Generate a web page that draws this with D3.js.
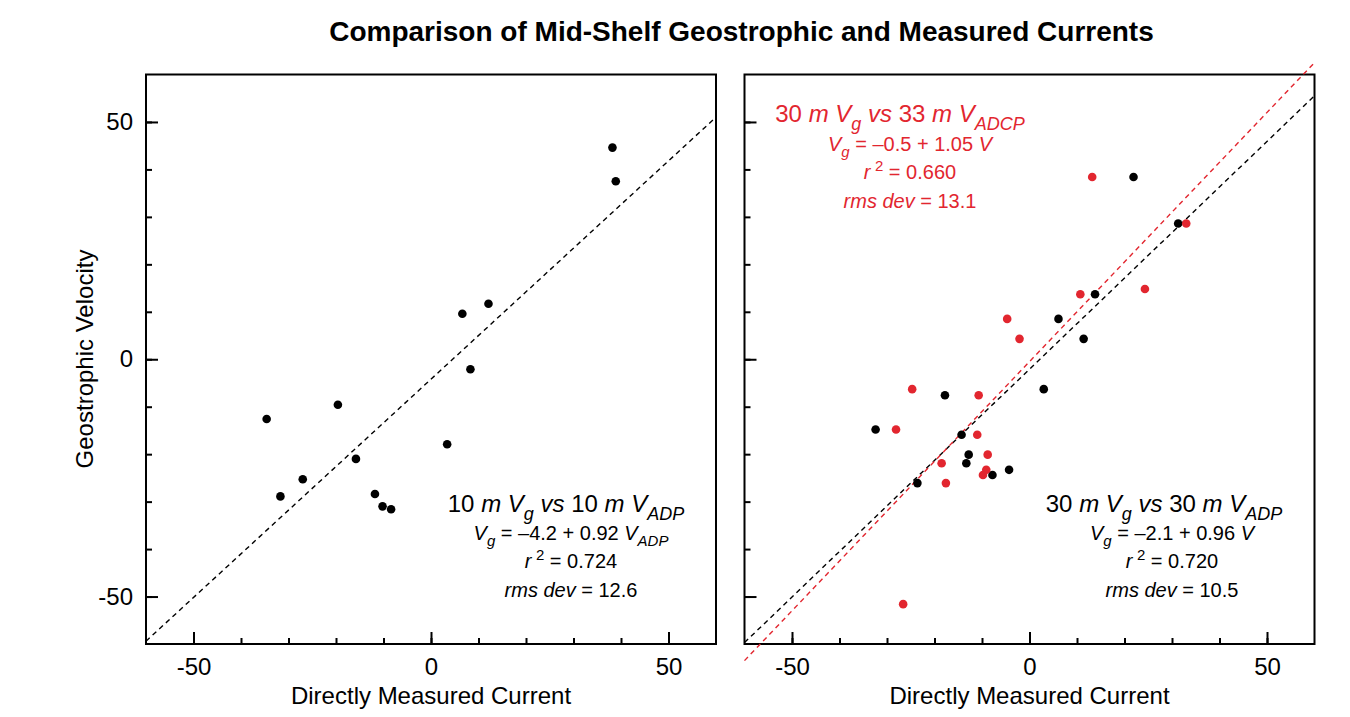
<!DOCTYPE html>
<html><head><meta charset="utf-8">
<script src="https://cdn.jsdelivr.net/npm/d3@7"></script>
<style>
body{margin:0;background:#fff}
text{font-family:"Liberation Sans",Arial,Helvetica,sans-serif;white-space:pre}
</style>
</head><body><svg id="c" width="1350" height="717"></svg>
<script>
// ---------- data ----------
const titleText = "Comparison of Mid-Shelf Geostrophic and Measured Currents";
const xLabelText = "Directly Measured Current";
const yLabelText = "Geostrophic Velocity";
const axisDomain = [-60, 60];
const majorTicks = [-50, 0, 50];
const minorTicks = [-50, -40, -30, -20, -10, 0, 10, 20, 30, 40, 50];
const tickLabels = ["-50", "0", "50"];

// left panel: 10 m Vg vs 10 m V_ADP
const left10X = [38.2, 38.9, 12.1, 6.6, 8.3, -19.6, -34.6, 3.4, -15.8, -27.0, -31.7, -11.8, -10.2, -8.4];
const left10Y = [44.6, 37.5, 11.7, 9.6, -2.1, -9.6, -12.6, -17.9, -21.0, -25.3, -28.9, -28.4, -31.0, -31.6];
const left10Fit = [-4.2, 0.92];

// right panel black: 30 m Vg vs 30 m V_ADP
const right30X = [21.9, 31.3, 13.8, 6.1, 11.4, 3.0, -17.8, -32.4, -14.3, -12.8, -13.3, -4.3, -7.8, -23.6];
const right30Y = [38.4, 28.6, 13.7, 8.5, 4.3, -6.3, -7.6, -14.8, -15.9, -20.1, -21.9, -23.3, -24.4, -26.1];
const right30Fit = [-2.1, 0.96];

// right panel red: 30 m Vg vs 33 m V_ADCP
const right33X = [13.2, 33.0, 10.7, 24.3, -4.7, -2.1, -24.7, -10.7, -28.1, -11.0, -8.8, -18.5, -9.1, -9.8, -17.6, -26.6];
const right33Y = [38.4, 28.6, 13.7, 14.8, 8.5, 4.3, -6.3, -7.6, -14.8, -15.9, -20.1, -21.9, -23.3, -24.4, -26.1, -51.6];
const right33Fit = [-0.5, 1.05];

// annotation texts (segments: t=text, i=italic, sub/sup)
const noteLeft = [
  [{t:"10 "},{t:"m V",i:1},{t:"g",i:1,sub:1},{t:" vs ",i:1},{t:"10 "},{t:"m V",i:1},{t:"ADP",i:1,sub:1}],
  [{t:"V",i:1},{t:"g",i:1,sub:1},{t:" = \u20134.2 + 0.92 "},{t:"V",i:1},{t:"ADP",i:1,sub:1}],
  [{t:"r",i:1},{t:"2",sup:1},{t:" = 0.724"}],
  [{t:"rms dev",i:1},{t:" = 12.6"}]
];
const noteBlack = [
  [{t:"30 "},{t:"m V",i:1},{t:"g",i:1,sub:1},{t:" vs ",i:1},{t:"30 "},{t:"m V",i:1},{t:"ADP",i:1,sub:1}],
  [{t:"V",i:1},{t:"g",i:1,sub:1},{t:" = \u20132.1 + 0.96 "},{t:"V",i:1}],
  [{t:"r",i:1},{t:"2",sup:1},{t:" = 0.720"}],
  [{t:"rms dev",i:1},{t:" = 10.5"}]
];
const noteRed = [
  [{t:"30 "},{t:"m V",i:1},{t:"g",i:1,sub:1},{t:" vs ",i:1},{t:"33 "},{t:"m V",i:1},{t:"ADCP",i:1,sub:1}],
  [{t:"V",i:1},{t:"g",i:1,sub:1},{t:" = \u20130.5 + 1.05 "},{t:"V",i:1}],
  [{t:"r",i:1},{t:"2",sup:1},{t:" = 0.660"}],
  [{t:"rms dev",i:1},{t:" = 13.1"}]
];

// ---------- drawing ----------
const RED = "#e2262f";
const svg = d3.select("#c");
const yRange = [644, 74.5];

svg.append("text").attr("x", 741.5).attr("y", 41).attr("text-anchor", "middle")
  .attr("font-size", 28).attr("font-weight", "bold").text(titleText);

function richLine(g, x, y, size, color, segs) {
  const t = g.append("text").attr("x", x).attr("y", y).attr("text-anchor", "middle")
    .attr("font-size", size).attr("fill", color);
  let shift = 0;
  segs.forEach(s => {
    const ts = t.append("tspan").text(s.t);
    if (s.i) ts.attr("font-style", "italic");
    let target = 0;
    if (s.sub) { ts.attr("font-size", size * 0.75); target = size * 0.32; }
    if (s.sup) { ts.attr("font-size", size * 0.75); target = -size * 0.42; ts.attr("dx", size * 0.22); }
    const dy = target - shift;
    if (dy) ts.attr("dy", dy);
    shift = target;
  });
}

function panel(id, xr, showYLabels) {
  const x = d3.scaleLinear().domain(axisDomain).range(xr);
  const y = d3.scaleLinear().domain(axisDomain).range(yRange);
  const g = svg.append("g");

  const xMinor = d3.axisBottom(x).tickValues(minorTicks).tickSize(-6).tickFormat("");
  const yMinor = d3.axisLeft(y).tickValues(minorTicks).tickSize(-6).tickFormat("");
  const xMajor = d3.axisBottom(x).tickValues(majorTicks).tickSize(-12).tickPadding(14)
    .tickFormat((d, i) => tickLabels[i]);
  const yMajor = d3.axisLeft(y).tickValues(majorTicks).tickSize(-12).tickPadding(13)
    .tickFormat((d, i) => showYLabels ? tickLabels[i] : "");

  [xMinor, xMajor].forEach(ax => {
    const a = g.append("g").attr("transform", `translate(0,${yRange[0]})`).call(ax);
    a.select(".domain").remove();
    a.selectAll("line").attr("stroke", "#000").attr("stroke-width", 2);
    a.selectAll("text").attr("font-size", 24).attr("fill", "#000").attr("font-family", null);
  });
  [yMinor, yMajor].forEach(ax => {
    const a = g.append("g").attr("transform", `translate(${xr[0]},0)`).call(ax);
    a.select(".domain").remove();
    a.selectAll("line").attr("stroke", "#000").attr("stroke-width", 2);
    a.selectAll("text").attr("font-size", 24).attr("fill", "#000").attr("font-family", null);
  });

  g.append("rect").attr("x", xr[0]).attr("y", yRange[1]).attr("width", xr[1] - xr[0])
    .attr("height", yRange[0] - yRange[1]).attr("fill", "none").attr("stroke", "#000").attr("stroke-width", 2);

  g.append("text").attr("x", (xr[0] + xr[1]) / 2).attr("y", 704).attr("text-anchor", "middle")
    .attr("font-size", 24).text(xLabelText);
  return {g, x, y, id};
}

function fitLine(p, fit, color) {
  const xs = axisDomain;
  p.g.append("line")
    .attr("x1", p.x(xs[0])).attr("y1", p.y(fit[0] + fit[1] * xs[0]))
    .attr("x2", p.x(xs[1])).attr("y2", p.y(fit[0] + fit[1] * xs[1]))
    .attr("stroke", color).attr("stroke-width", 1.4).attr("stroke-dasharray", "5,4");
}
function dots(p, xs, ys, color) {
  p.g.append("g").selectAll("circle").data(xs.map((v, i) => [v, ys[i]])).join("circle")
    .attr("cx", d => p.x(d[0])).attr("cy", d => p.y(d[1])).attr("r", 4.3).attr("fill", color);
}
function note(p, lines, cx1, cx, ys, color) {
  lines.forEach((segs, i) => richLine(p.g, i === 0 ? cx1 : cx, ys[i], i === 0 ? 24 : 20, color, segs));
}

const L = panel("L", [146, 716], true);
fitLine(L, left10Fit, "#000");
dots(L, left10X, left10Y, "#000");
note(L, noteLeft, 566, 571, [512, 540, 568, 597], "#000");

const R = panel("R", [744.5, 1314.5], false);
fitLine(R, right30Fit, "#000");
fitLine(R, right33Fit, RED);
dots(R, right30X, right30Y, "#000");
dots(R, right33X, right33Y, RED);
note(R, noteBlack, 1164, 1172, [512, 540, 568, 597], "#000");
note(R, noteRed, 900, 910, [122, 151, 179, 208], RED);

svg.append("text").attr("transform", "translate(93,359) rotate(-90)").attr("text-anchor", "middle")
  .attr("font-size", 24).text(yLabelText);
</script>
</body></html>
